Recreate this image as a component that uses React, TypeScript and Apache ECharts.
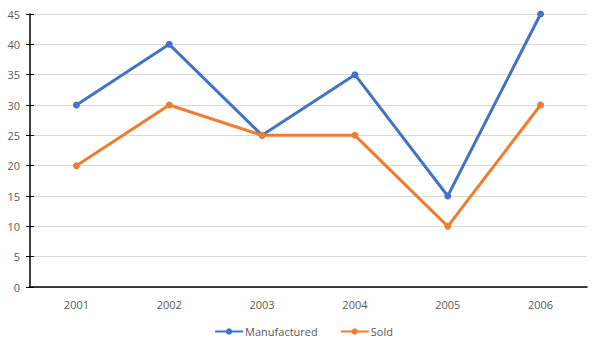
import React, { useEffect, useRef } from "react";
import * as echarts from "echarts";

const categories = ["2001", "2002", "2003", "2004", "2005", "2006"];
const manufactured = [30, 40, 25, 35, 15, 45];
const sold = [20, 30, 25, 25, 10, 30];

export default function App() {
  const ref = useRef<HTMLDivElement>(null);
  useEffect(() => {
    document.body.style.margin = "0";
    document.body.style.overflow = "hidden";
    const chart = echarts.init(ref.current!, null, { renderer: "svg" });
    const font = "'Open Sans', 'Liberation Sans', sans-serif";
    const tickStyle = { color: "#000", width: 1 };
    chart.setOption({
      animation: false,
      textStyle: { fontFamily: font },
      grid: { left: 30, right: 20, top: 14, bottom: 61, containLabel: false },
      legend: {
        bottom: 6,
        left: "center",
        itemWidth: 28,
        itemHeight: 8,
        itemGap: 22,
        textStyle: { color: "#595959", fontSize: 11, fontFamily: font, padding: [0, 0, 0, -3] },
        data: ["Manufactured", "Sold"],
      },
      xAxis: [
        {
          type: "category",
          data: categories,
          boundaryGap: true,
          position: "bottom",
          axisLine: { lineStyle: { color: "#000", width: 1.5 } },
          axisTick: { alignWithLabel: true, length: 4, lineStyle: tickStyle },
          axisLabel: { color: "#595959", fontSize: 11, margin: 12, fontFamily: font },
          splitLine: { show: false },
        },
        {
          type: "category",
          data: categories,
          boundaryGap: true,
          position: "bottom",
          axisLine: { show: false },
          axisTick: { alignWithLabel: true, inside: true, length: 4, lineStyle: tickStyle },
          axisLabel: { show: false },
          splitLine: { show: false },
        },
      ],
      yAxis: [
        {
          type: "value",
          min: 0,
          max: 45,
          interval: 5,
          position: "left",
          axisLine: { show: true, lineStyle: { color: "#000", width: 1.5 } },
          axisTick: { show: true, length: 4, lineStyle: tickStyle },
          axisLabel: { color: "#595959", fontSize: 11, margin: 10, fontFamily: font },
          splitLine: { show: true, lineStyle: { color: "#D9D9D9", width: 1 } },
        },
        {
          type: "value",
          min: 0,
          max: 45,
          interval: 5,
          position: "left",
          axisLine: { show: false },
          axisTick: { show: true, inside: true, length: 4, lineStyle: tickStyle },
          axisLabel: { show: false },
          splitLine: { show: false },
        },
      ],
      series: [
        {
          name: "Manufactured",
          type: "line",
          data: manufactured,
          color: "#4472C4",
          symbol: "circle",
          symbolSize: 7,
          lineStyle: { width: 3, color: "#4472C4" },
          itemStyle: { color: "#4472C4" },
        },
        {
          name: "Sold",
          type: "line",
          data: sold,
          color: "#ED7D31",
          symbol: "circle",
          symbolSize: 7,
          lineStyle: { width: 3, color: "#ED7D31" },
          itemStyle: { color: "#ED7D31" },
        },
      ],
    });
    return () => chart.dispose();
  }, []);
  return <div ref={ref} style={{ width: 607, height: 348 }} />;
}
